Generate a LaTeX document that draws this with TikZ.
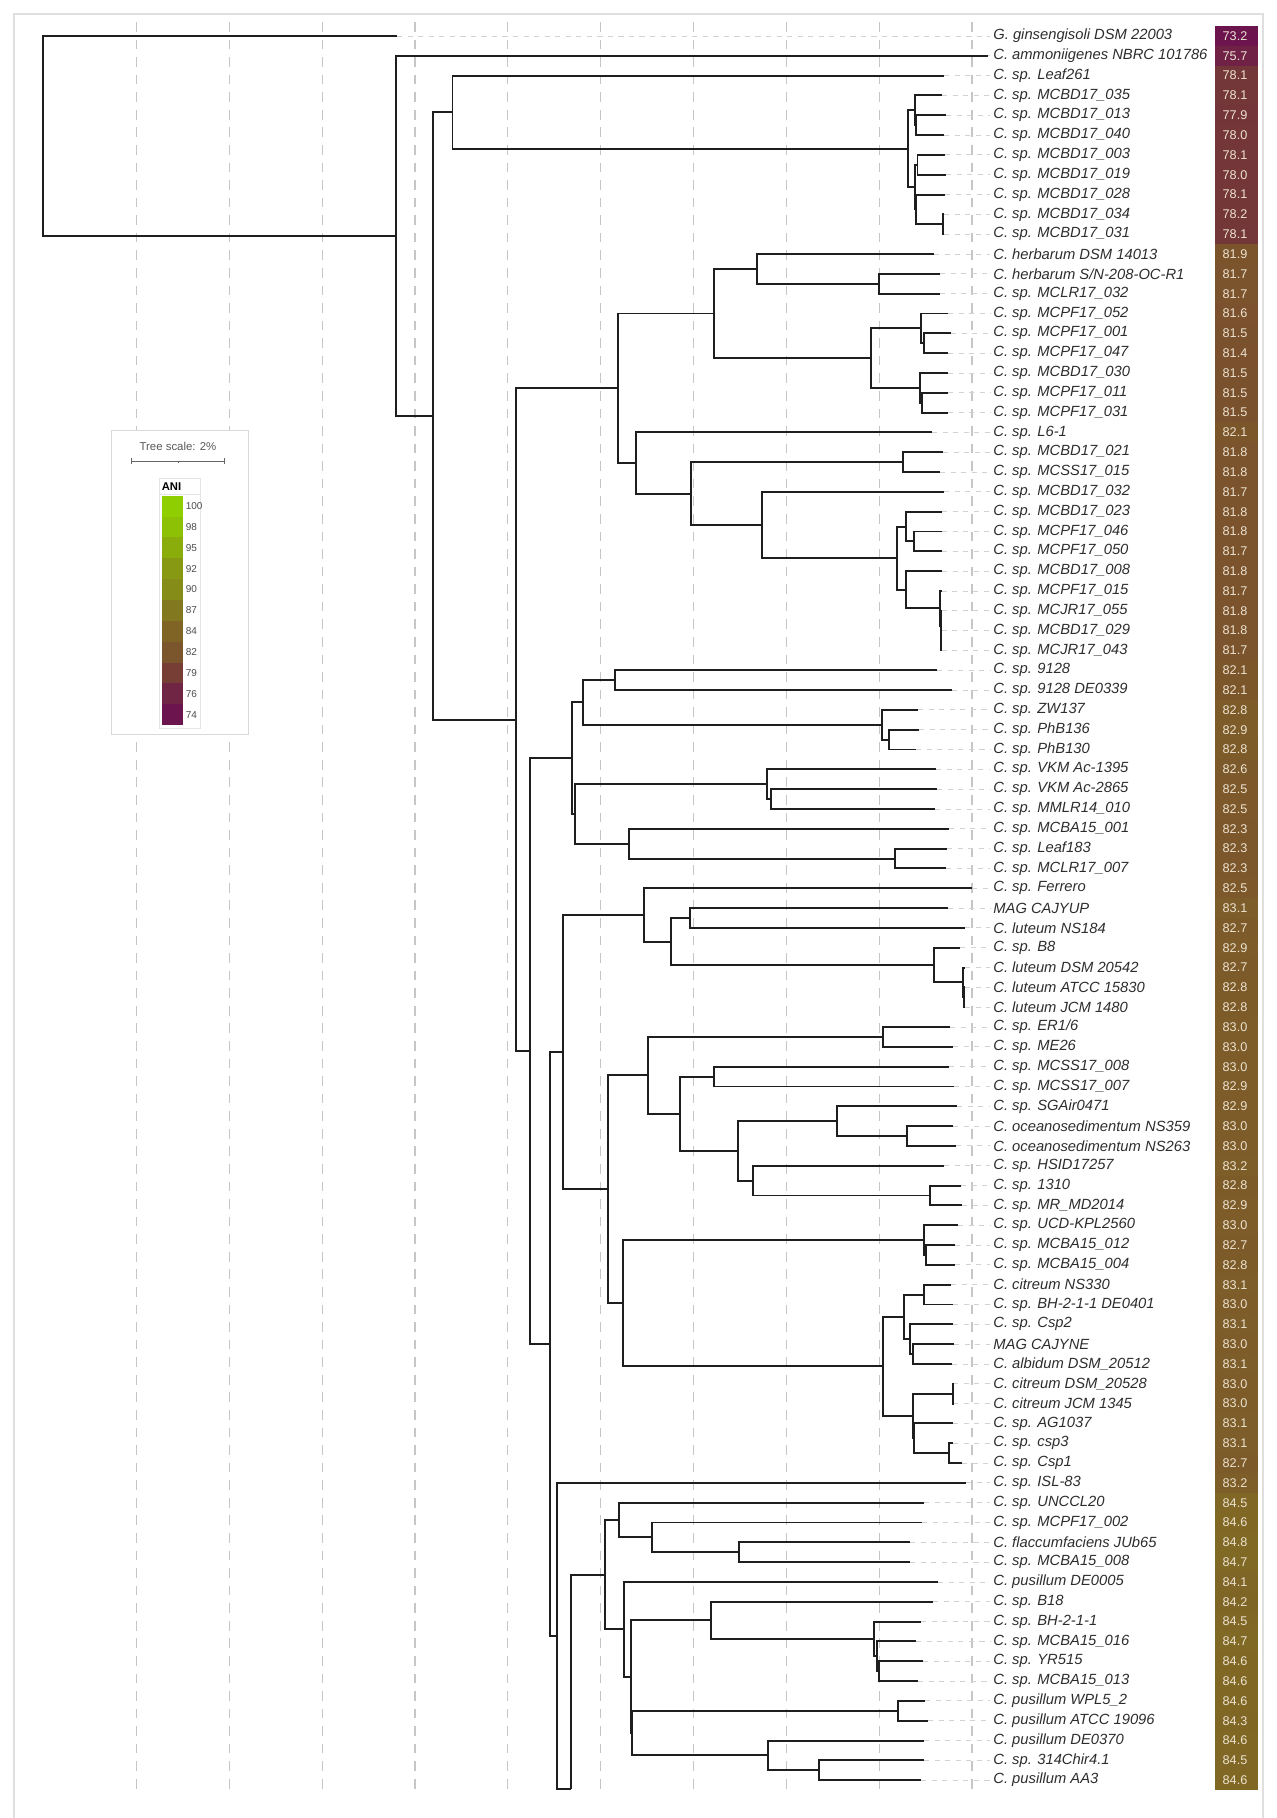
\documentclass[tikz,border=0pt]{standalone}
\usepackage{fontspec}
\setmainfont{Liberation Sans}
\usetikzlibrary{calc}
\definecolor{c74}{RGB}{108,20,78}
\definecolor{c79}{RGB}{118,62,52}
\definecolor{c84}{RGB}{127,100,38}
\definecolor{c100}{RGB}{143,206,0}
\definecolor{treecol}{RGB}{30,30,30}
\definecolor{taxcol}{RGB}{45,45,45}
\definecolor{valcol}{RGB}{236,226,208}
% colour of an ANI value
\newcommand\setani[1]{%
  \ifdim#1pt<79pt
    \pgfmathsetmacro\anit{max(0,(#1-74)*20)}\colorlet{anic}{c79!\anit!c74}%
  \else\ifdim#1pt<84pt
    \pgfmathsetmacro\anit{(#1-79)*20}\colorlet{anic}{c84!\anit!c79}%
  \else
    \pgfmathsetmacro\anit{min(100,(#1-84)*6.25)}\colorlet{anic}{c100!\anit!c84}%
  \fi\fi}
% leaf: row, end of branch, name, ANI
\newcommand\leaf[4]{%
  \pgfmathsetmacro\ly{36+(#1-1)*19.82}
  \setani{#4}
  \coordinate (l#1) at (#2,\ly);
  \node[taxon] (t#1) at (993,\ly) {#3};
  \draw[leader] (l#1) -- ([xshift=-1.5pt]t#1.west);
  \fill[anic] (1215,\ly-10) rectangle (1258,\ly+10);
  \node[anival] (v#1) at (1235,\ly) {#4};
}
% clade: name, x, first child, last child
\newcommand\clade[4]{%
  \path let \p1=(#3), \p2=(#4), \p3=(#2,0) in coordinate (#1) at (\x3,{(\y1+\y2)/2});
  \draw[branch] (#3) -| (#1 |- #4) -- (#4);
}
\begin{document}
\begin{tikzpicture}[x=0.02cm, y=-0.02cm, line join=miter,
  branch/.style={treecol, line width=1.1pt},
  leader/.style={gray!35, line width=0.5pt, dash pattern=on 3pt off 3pt},
  gridline/.style={gray!45, line width=0.6pt, dash pattern=on 5.5pt off 4.5pt},
  taxon/.style={anchor=west, inner sep=0pt, text=taxcol, font=\fontsize{8.4}{10}\selectfont\itshape},
  anival/.style={inner sep=0pt, text=valcol, font=\fontsize{7.2}{8}\selectfont},
  legnum/.style={anchor=west, inner sep=0pt, text=black!70, font=\fontsize{5.7}{7}\selectfont}]
\useasboundingbox (0,0) rectangle (1277,1818);
\draw[gray!25, line width=0.6pt] (14,1818) -- (14,14) -- (1263,14) -- (1263,1818);
\foreach \k in {0,...,9}
  \draw[gridline] ({136.5+\k*92.83},22) -- ({136.5+\k*92.83},1790);
% legend
\fill[white] (111,430) rectangle (248,734);
\draw[gray!30, line width=0.5pt] (111,430) rectangle (248,734);
\node[font=\fontsize{6.5}{8}\selectfont, text=black!65, inner sep=0pt] (tscale) at (178,446) {Tree scale: 2\%};
\coordinate (sb0) at (131.7,461); \coordinate (sb1) at (224.5,461);
\draw[black!60, line width=0.5pt] (sb0) -- (sb1);
\draw[black!60, line width=0.5pt] (sb0) ++(0,-3) -- ++(0,6) (sb1) ++(0,-3) -- ++(0,6) ($(sb0)!0.5!(sb1)$) -- ++(0,2);
\draw[gray!20, line width=0.4pt] (159,478) rectangle (200,728) (159,494) -- (200,494);
\node[anchor=west, inner sep=0pt, font=\fontsize{6.4}{8}\selectfont\bfseries] (anih) at (161.5,486.5) {ANI};
\foreach \v [count=\i from 0] in {100,98,95,92,90,87,84,82,79,76,74}{
  \setani{\v}
  \fill[anic] (162.3,{495.7+\i*20.85}) rectangle (182.7,{495.7+(\i+1)*20.85});
  \node[legnum] (ln\i) at (185.5,{506.1+\i*20.85}) {\v};
}
% leaves
\leaf{1}{397}{G. ginsengisoli DSM 22003}{73.2}
\leaf{2}{988}{C. ammoniigenes NBRC 101786}{75.7}
\leaf{3}{944}{C. sp. Leaf261}{78.1}
\leaf{4}{942}{C. sp. MCBD17\_035}{78.1}
\leaf{5}{946}{C. sp. MCBD17\_013}{77.9}
\leaf{6}{944}{C. sp. MCBD17\_040}{78.0}
\leaf{7}{945}{C. sp. MCBD17\_003}{78.1}
\leaf{8}{946}{C. sp. MCBD17\_019}{78.0}
\leaf{9}{945}{C. sp. MCBD17\_028}{78.1}
\leaf{10}{944}{C. sp. MCBD17\_034}{78.2}
\leaf{11}{944}{C. sp. MCBD17\_031}{78.1}
\leaf{12}{934}{C. herbarum DSM 14013}{81.9}
\leaf{13}{940}{C. herbarum S/N-208-OC-R1}{81.7}
\leaf{14}{940}{C. sp. MCLR17\_032}{81.7}
\leaf{15}{948}{C. sp. MCPF17\_052}{81.6}
\leaf{16}{951}{C. sp. MCPF17\_001}{81.5}
\leaf{17}{948}{C. sp. MCPF17\_047}{81.4}
\leaf{18}{948}{C. sp. MCBD17\_030}{81.5}
\leaf{19}{948}{C. sp. MCPF17\_011}{81.5}
\leaf{20}{948}{C. sp. MCPF17\_031}{81.5}
\leaf{21}{932}{C. sp. L6-1}{82.1}
\leaf{22}{943}{C. sp. MCBD17\_021}{81.8}
\leaf{23}{940}{C. sp. MCSS17\_015}{81.8}
\leaf{24}{944}{C. sp. MCBD17\_032}{81.7}
\leaf{25}{942}{C. sp. MCBD17\_023}{81.8}
\leaf{26}{942}{C. sp. MCPF17\_046}{81.8}
\leaf{27}{942}{C. sp. MCPF17\_050}{81.7}
\leaf{28}{942}{C. sp. MCBD17\_008}{81.8}
\leaf{29}{941.5}{C. sp. MCPF17\_015}{81.7}
\leaf{30}{941.5}{C. sp. MCJR17\_055}{81.8}
\leaf{31}{941.5}{C. sp. MCBD17\_029}{81.8}
\leaf{32}{941.5}{C. sp. MCJR17\_043}{81.7}
\leaf{33}{937}{C. sp. 9128}{82.1}
\leaf{34}{952}{C. sp. 9128 DE0339}{82.1}
\leaf{35}{918}{C. sp. ZW137}{82.8}
\leaf{36}{919}{C. sp. PhB136}{82.9}
\leaf{37}{916}{C. sp. PhB130}{82.8}
\leaf{38}{936}{C. sp. VKM Ac-1395}{82.6}
\leaf{39}{937}{C. sp. VKM Ac-2865}{82.5}
\leaf{40}{935}{C. sp. MMLR14\_010}{82.5}
\leaf{41}{949}{C. sp. MCBA15\_001}{82.3}
\leaf{42}{947}{C. sp. Leaf183}{82.3}
\leaf{43}{946}{C. sp. MCLR17\_007}{82.3}
\leaf{44}{972}{C. sp. Ferrero}{82.5}
\leaf{45}{948}{MAG CAJYUP}{83.1}
\leaf{46}{965}{C. luteum NS184}{82.7}
\leaf{47}{960}{C. sp. B8}{82.9}
\leaf{48}{965}{C. luteum DSM 20542}{82.7}
\leaf{49}{965}{C. luteum ATCC 15830}{82.8}
\leaf{50}{965}{C. luteum JCM 1480}{82.8}
\leaf{51}{950}{C. sp. ER1/6}{83.0}
\leaf{52}{953}{C. sp. ME26}{83.0}
\leaf{53}{949}{C. sp. MCSS17\_008}{83.0}
\leaf{54}{954}{C. sp. MCSS17\_007}{82.9}
\leaf{55}{957}{C. sp. SGAir0471}{82.9}
\leaf{56}{953}{C. oceanosedimentum NS359}{83.0}
\leaf{57}{956}{C. oceanosedimentum NS263}{83.0}
\leaf{58}{944}{C. sp. HSID17257}{83.2}
\leaf{59}{961}{C. sp. 1310}{82.8}
\leaf{60}{962}{C. sp. MR\_MD2014}{82.9}
\leaf{61}{958}{C. sp. UCD-KPL2560}{83.0}
\leaf{62}{955}{C. sp. MCBA15\_012}{82.7}
\leaf{63}{955}{C. sp. MCBA15\_004}{82.8}
\leaf{64}{951}{C. citreum NS330}{83.1}
\leaf{65}{953}{C. sp. BH-2-1-1 DE0401}{83.0}
\leaf{66}{953}{C. sp. Csp2}{83.1}
\leaf{67}{954}{MAG CAJYNE}{83.0}
\leaf{68}{952}{C. albidum DSM\_20512}{83.1}
\leaf{69}{953}{C. citreum DSM\_20528}{83.0}
\leaf{70}{953}{C. citreum JCM 1345}{83.0}
\leaf{71}{953}{C. sp. AG1037}{83.1}
\leaf{72}{953}{C. sp. csp3}{83.1}
\leaf{73}{962}{C. sp. Csp1}{82.7}
\leaf{74}{966}{C. sp. ISL-83}{83.2}
\leaf{75}{924}{C. sp. UNCCL20}{84.5}
\leaf{76}{922}{C. sp. MCPF17\_002}{84.6}
\leaf{77}{910}{C. flaccumfaciens JUb65}{84.8}
\leaf{78}{910}{C. sp. MCBA15\_008}{84.7}
\leaf{79}{938}{C. pusillum DE0005}{84.1}
\leaf{80}{933}{C. sp. B18}{84.2}
\leaf{81}{921}{C. sp. BH-2-1-1}{84.5}
\leaf{82}{916}{C. sp. MCBA15\_016}{84.7}
\leaf{83}{923}{C. sp. YR515}{84.6}
\leaf{84}{918}{C. sp. MCBA15\_013}{84.6}
\leaf{85}{925}{C. pusillum WPL5\_2}{84.6}
\leaf{86}{928}{C. pusillum ATCC 19096}{84.3}
\leaf{87}{924}{C. pusillum DE0370}{84.6}
\leaf{88}{924}{C. sp. 314Chir4.1}{84.5}
\leaf{89}{921}{C. pusillum AA3}{84.6}
% MCBD17 clade
\clade{nb1a}{916.3}{l5}{l6}
\clade{nb1}{914.7}{l4}{nb1a}
\clade{nb2a}{917.5}{l7}{l8}
\clade{nb2c}{943.1}{l10}{l11}
\clade{nb2b}{916.3}{l9}{nb2c}
\clade{nb2}{914.7}{nb2a}{nb2b}
\clade{nb}{908.4}{nb1}{nb2}
\clade{n452}{452.5}{l3}{nb}
% herbarum / MCPF17 / MCBD17 clades
\clade{n879}{879.3}{l13}{l14}
\clade{n757}{756.7}{l12}{n879}
\clade{n925}{924.3}{l16}{l17}
\clade{n921}{920.7}{l15}{n925}
\clade{n922}{922}{l19}{l20}
\clade{n920}{920}{l18}{n922}
\clade{n870}{870.7}{n921}{n920}
\clade{n714}{714.3}{n757}{n870}
\clade{n903}{902.7}{l22}{l23}
\clade{n914}{913.7}{l26}{l27}
\clade{n906}{906}{l25}{n914}
\clade{n942c}{941}{l31}{l32}
\clade{n942b}{940.7}{l30}{n942c}
\clade{n942}{940.3}{l29}{n942b}
\clade{n905}{905.7}{l28}{n942}
\clade{n898}{897.3}{n906}{n905}
\clade{n762}{762}{l24}{n898}
\clade{n691}{691}{n903}{n762}
\clade{n636}{636}{l21}{n691}
\clade{n617}{617.7}{n714}{n636}
% 9128 ... MCLR17_007
\clade{n615}{615}{l33}{l34}
\clade{n889}{888.7}{l36}{l37}
\clade{n882}{882.3}{l35}{n889}
\clade{n583}{583.3}{n615}{n882}
\clade{n771}{771}{l39}{l40}
\clade{n767}{767.3}{l38}{n771}
\clade{n895}{895}{l42}{l43}
\clade{n629}{629}{l41}{n895}
\clade{n575}{575}{n767}{n629}
\clade{n572}{571.7}{n583}{n575}
% Ferrero ... Csp1
\clade{n690}{690}{l45}{l46}
\clade{n964}{964}{l49}{l50}
\clade{n963}{963.3}{l48}{n964}
\clade{n934}{934}{l47}{n963}
\clade{n670}{670.7}{n690}{n934}
\clade{n644}{644.3}{l44}{n670}
\clade{n883}{882.7}{l51}{l52}
\clade{n714b}{714}{l53}{l54}
\clade{n907}{907.3}{l56}{l57}
\clade{n836}{836.7}{l55}{n907}
\clade{n930}{930}{l59}{l60}
\clade{n754}{753.3}{l58}{n930}
\clade{n738}{738.3}{n836}{n754}
\clade{n680}{680}{n714b}{n738}
\clade{n648}{648.3}{n883}{n680}
\clade{n926}{926}{l62}{l63}
\clade{n925b}{924.3}{l61}{n926}
\clade{n924}{924.3}{l64}{l65}
\clade{n913}{912.7}{l67}{l68}
\clade{n911}{910}{l66}{n913}
\clade{n905b}{904.3}{n924}{n911}
\clade{n953}{952.7}{l69}{l70}
\clade{n949}{949}{l72}{l73}
\clade{n914c}{914.3}{l71}{n949}
\clade{n914b}{913.3}{n953}{n914c}
\clade{n883b}{882.7}{n905b}{n914b}
\clade{n623}{623.3}{n925b}{n883b}
\clade{n607}{607.7}{n648}{n623}
\clade{n562}{562.7}{n644}{n607}
% pusillum / flaccumfaciens group
\clade{n739}{739}{l77}{l78}
\clade{n652}{652.3}{l76}{n739}
\clade{n619}{619.3}{l75}{n652}
\clade{n879b}{879}{l83}{l84}
\clade{n877}{876.7}{l82}{n879b}
\clade{n874}{874}{l81}{n877}
\clade{n711}{711}{l80}{n874}
\clade{n898b}{898.3}{l85}{l86}
\clade{n819}{819}{l88}{l89}
\clade{n768}{768.3}{l87}{n819}
\clade{n632}{631.7}{n898b}{n768}
\clade{n631}{630.7}{n711}{n632}
\clade{n624}{624}{l79}{n631}
\clade{n605}{605}{n619}{n624}
\coordinate (n571) at (570.7,1789);
\draw[branch] (n605) -| (n571);
% backbone
\clade{n557}{556.7}{l74}{n571}
\clade{n550}{550}{n562}{n557}
\clade{n530}{530}{n572}{n550}
\clade{n516}{516}{n617}{n530}
\clade{n432}{432.6}{n452}{n516}
\clade{n396}{396.4}{l2}{n432}
\clade{n43}{43}{l1}{n396}
\end{tikzpicture}
\end{document}
